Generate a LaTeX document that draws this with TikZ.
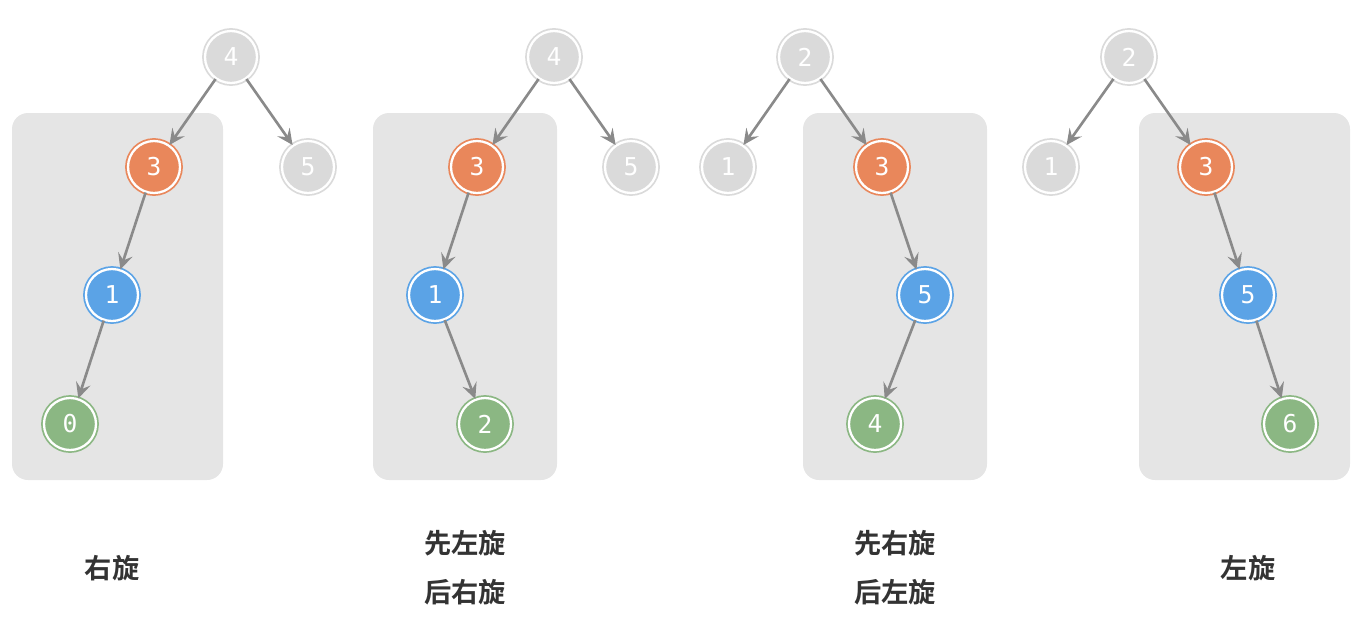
\documentclass[tikz,border=0pt]{standalone}
\usepackage{fontspec}
\usepackage{tikz}
\usetikzlibrary{arrows.meta}
\newfontfamily\cjkbold{Noto Sans CJK SC Bold}
\newfontfamily\digitfont{DejaVu Sans Mono}
\definecolor{TreeGray}{HTML}{DADADA}
\definecolor{TreeOrange}{HTML}{E9875B}
\definecolor{TreeBlue}{HTML}{5BA3E6}
\definecolor{TreeGreen}{HTML}{8BB783}
\definecolor{BoxGray}{HTML}{E5E5E5}
\definecolor{EdgeGray}{HTML}{8A8A8A}
\definecolor{LabelDark}{HTML}{333333}

\begin{document}
\begin{tikzpicture}[x=0.02cm, y=-0.02cm,
        treenode/.style={circle, minimum size=1.04cm, inner sep=0pt, line width=1pt, double=white, double distance=1.3pt, text=white, font=\digitfont\fontsize{14}{16}\selectfont},
        graynode/.style={treenode, draw=TreeGray, fill=TreeGray},
        orangenode/.style={treenode, draw=TreeOrange, fill=TreeOrange},
        bluenode/.style={treenode, draw=TreeBlue, fill=TreeBlue},
        greennode/.style={treenode, draw=TreeGreen, fill=TreeGreen},
        subtree/.style={fill=BoxGray, rounded corners=0.32cm},
        edge/.style={-{Stealth[length=9pt, width=8.5pt, inset=3.5pt]}, line width=1.5pt, draw=EdgeGray},
        caption/.style={text=LabelDark, font=\cjkbold\fontsize{15.5}{18}\selectfont, align=center}]
        \useasboundingbox (0,0) rectangle (1358,616);
        % subtree backgrounds
        \fill [subtree] (12,113) rectangle (223,480);
        \fill [subtree] (373,113) rectangle (557,480);
        \fill [subtree] (803,113) rectangle (987,480);
        \fill [subtree] (1139,113) rectangle (1350,480);
        % right rotation
        \node (A4) [graynode] at (231,57) {4};
        \node (A5) [graynode] at (308,167) {5};
        \node (A3) [orangenode] at (154,167) {3};
        \node (A1) [bluenode] at (112,295) {1};
        \node (A0) [greennode] at (70,424) {0};
        \draw [edge] (A4) -- (A3);
        \draw [edge] (A4) -- (A5);
        \draw [edge] (A3) -- (A1);
        \draw [edge] (A1) -- (A0);
        % left-right rotation
        \node (B4) [graynode] at (554,57) {4};
        \node (B5) [graynode] at (631,167) {5};
        \node (B3) [orangenode] at (477,167) {3};
        \node (B1) [bluenode] at (435,295) {1};
        \node (B2) [greennode] at (485,424) {2};
        \draw [edge] (B4) -- (B3);
        \draw [edge] (B4) -- (B5);
        \draw [edge] (B3) -- (B1);
        \draw [edge] (B1) -- (B2);
        % right-left rotation
        \node (C2) [graynode] at (805,57) {2};
        \node (C1) [graynode] at (728,167) {1};
        \node (C3) [orangenode] at (882,167) {3};
        \node (C5) [bluenode] at (925,295) {5};
        \node (C4) [greennode] at (875,424) {4};
        \draw [edge] (C2) -- (C1);
        \draw [edge] (C2) -- (C3);
        \draw [edge] (C3) -- (C5);
        \draw [edge] (C5) -- (C4);
        % left rotation
        \node (D2) [graynode] at (1129,57) {2};
        \node (D1) [graynode] at (1051,167) {1};
        \node (D3) [orangenode] at (1206,167) {3};
        \node (D5) [bluenode] at (1248,295) {5};
        \node (D6) [greennode] at (1290,424) {6};
        \draw [edge] (D2) -- (D1);
        \draw [edge] (D2) -- (D3);
        \draw [edge] (D3) -- (D5);
        \draw [edge] (D5) -- (D6);
        % captions
        \node (RightCap) [caption] at (112,568) {右旋};
        \node (LeftRightCap) [caption] at (465,568) {先左旋\\[10pt]后右旋};
        \node (RightLeftCap) [caption] at (895,568) {先右旋\\[10pt]后左旋};
        \node (LeftCap) [caption] at (1248,568) {左旋};
    \end{tikzpicture}
\end{document}
